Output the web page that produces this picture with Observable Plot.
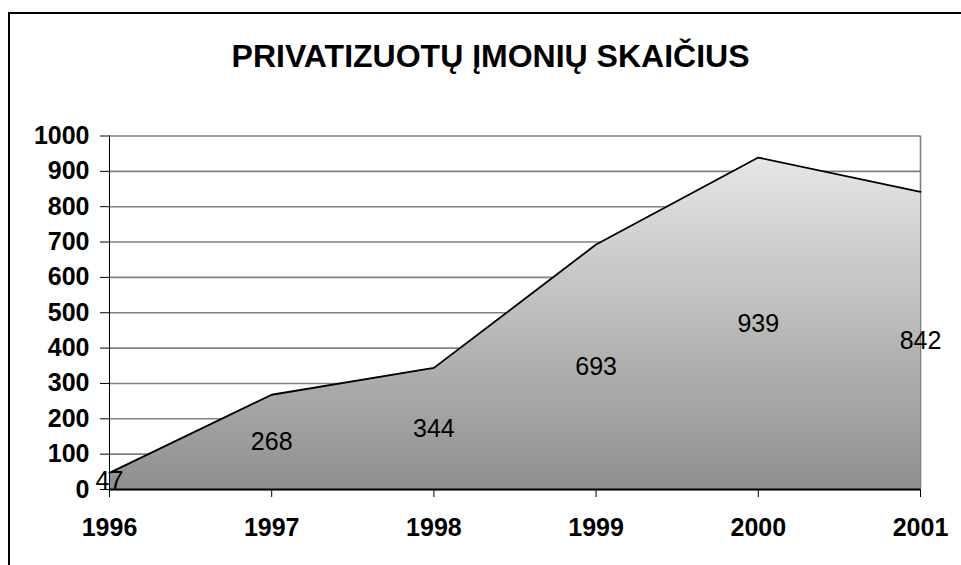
<!DOCTYPE html>
<html>
<head>
<meta charset="utf-8">
<script src="https://cdn.jsdelivr.net/npm/d3@7"></script>
<script src="https://cdn.jsdelivr.net/npm/@observablehq/plot@0.6"></script>
<style>
  html, body { margin: 0; padding: 0; background: #fff; }
  #wrap { position: relative; width: 961px; height: 565px; overflow: hidden; }
  #frame { position: absolute; left: 8px; top: 12px; width: 980px; height: 600px; border: 2px solid #000; box-sizing: border-box; pointer-events: none; }
  svg { font-family: "Liberation Sans", Arial, sans-serif; }
</style>
</head>
<body>
<div id="wrap"><div id="frame"></div></div>
<script>
const title = "PRIVATIZUOTŲ ĮMONIŲ SKAIČIUS";
const years = [1996, 1997, 1998, 1999, 2000, 2001];
const values = [47, 268, 344, 693, 939, 842];
const yTicks = [0, 100, 200, 300, 400, 500, 600, 700, 800, 900, 1000];

const data = years.map((year, i) => ({year, value: values[i]}));

const gradient = () => {
  const defs = d3.create("svg:defs");
  const g = defs.append("linearGradient")
    .attr("id", "areaGrad")
    .attr("x1", 0).attr("y1", 0).attr("x2", 0).attr("y2", 1);
  g.append("stop").attr("offset", "0%").attr("stop-color", "#e6e6e6");
  g.append("stop").attr("offset", "100%").attr("stop-color", "#8f8f8f");
  return defs.node();
};

const chart = Plot.plot({
  width: 961,
  height: 565,
  marginLeft: 109,
  marginRight: 41,
  marginTop: 135.5,
  marginBottom: 76,
  style: {fontFamily: "Liberation Sans, Arial, sans-serif", background: "transparent", overflow: "visible"},
  x: {type: "linear", domain: [1996, 2001], ticks: years, tickFormat: d => String(d), label: null},
  y: {domain: [0, 1000], ticks: yTicks, tickFormat: d => String(d), label: null},
  marks: [
    gradient,
    Plot.gridY(yTicks, {stroke: "#808080", strokeOpacity: 1, strokeWidth: 1.6}),
    Plot.ruleX([2001], {y1: 0, y2: 1000, stroke: "#808080", strokeWidth: 1.6}),
    Plot.areaY(data, {x: "year", y: "value", fill: "url(#areaGrad)"}),
    Plot.lineY(data, {x: "year", y: "value", stroke: "#000", strokeWidth: 1.8}),
    Plot.ruleX([1996], {y1: 0, y2: 1000, stroke: "#000", strokeWidth: 1}),
    Plot.ruleY([0], {stroke: "#000", strokeWidth: 2}),
    Plot.axisY({ticks: yTicks, tickFormat: d => String(d), tickSize: 9, tickPadding: 11, fontSize: 25, fontWeight: "bold", fill: "#000", stroke: "#000", label: null}),
    Plot.axisX({ticks: years, tickFormat: d => String(d), tickSize: 8, tickPadding: 21, fontSize: 25, fontWeight: "bold", fill: "#000", label: null}),
    Plot.text(data, {x: "year", y: d => d.value / 2, text: d => String(d.value), fontSize: 25, fill: "#000"}),
    Plot.text([title], {frameAnchor: "top", lineAnchor: "middle", dy: -79.5, dx: -24.5, fontSize: 32, fontWeight: "bold", fill: "#000"})
  ]
});
chart.style.position = "absolute";
chart.style.left = "0px";
chart.style.top = "0px";
document.getElementById("wrap").appendChild(chart);
</script>
</body>
</html>
